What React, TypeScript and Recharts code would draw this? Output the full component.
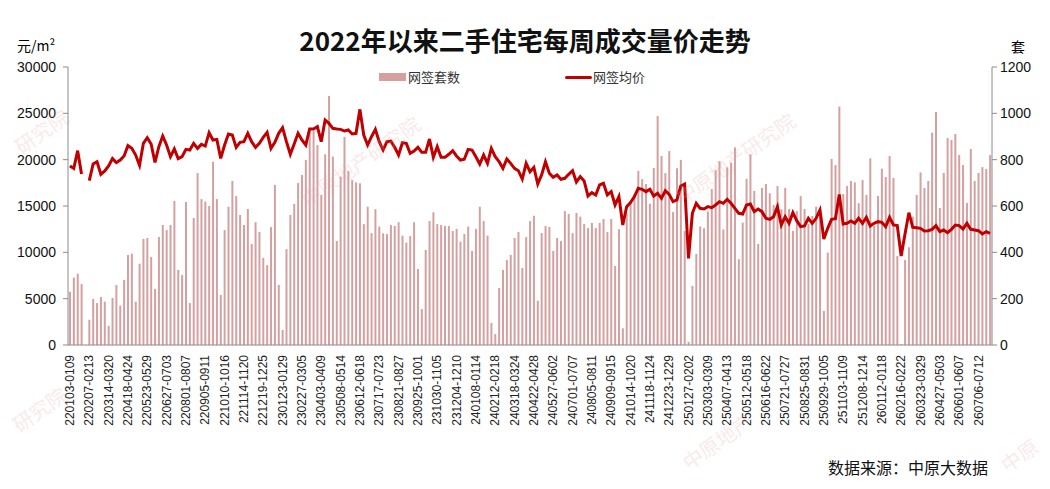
import { ComposedChart, Bar, Line, XAxis, YAxis } from 'recharts';

// weekly deals (套), Jan 2022 onward
const setsSold: (number | null)[] = [
  230, 291, 308, 263, null, 109, 199, 181, 207, 187,
  83, 203, 259, 170, 281, 389, 394, 187, 351, 458,
  462, 380, 242, 466, 518, 496, 518, 622, 324, 302,
  617, 181, 548, 742, 630, 619, 600, 791, 630, 216,
  496, 597, 708, 643, 561, 518, 587, 436, 530, 488,
  376, 345, 509, 691, 259, 65, 414, 561, 609, 699,
  734, 799, 921, 924, 863, 648, 823, 1075, 813, 449,
  727, 898, 751, 712, 702, 698, 522, 597, 483, 586,
  511, 482, 479, 518, 514, 530, 472, 442, 470, 530,
  328, 155, 410, 535, 573, 522, 518, 514, 514, 492,
  501, 446, 479, 511, 406, 501, 597, 535, 472, 95,
  47, 246, 324, 367, 389, 462, 488, 332, 466, 535,
  558, 191, 483, 514, 509, 406, 462, 449, 578, 566,
  483, 570, 554, 522, 505, 527, 505, 527, 544, 488,
  544, 341, 500, 72, 568, 615, 650, 751, 716, 695,
  610, 764, 988, 816, 742, 837, 574, 763, 799, 492,
  14, 255, 393, 511, 504, 576, 673, 755, 794, 499,
  767, 787, 853, 370, 528, 717, 823, 665, 436, 678,
  695, 655, 604, 686, 586, 678, 587, 492, 578, 643,
  587, 522, 557, 597, 587, 147, 399, 803, 777, 1029,
  652, 686, 708, 702, 612, 712, 648, 806, 514, 643,
  761, 725, 816, 721, 384, 4, 367, 422, 554, 648,
  745, 678, 708, 917, 1006, 591, 743, 894, 885, 911,
  820, 777, 613, 846, 708, 743, 768, 760, 820,
];

// weekly average price (元/㎡)
const avgPrice: (number | null)[] = [
  19320, 19060, 20970, 18450, null, 17730, 19530, 19780, 18420, 18780,
  19320, 20110, 19680, 19960, 20400, 21510, 21220, 20500, 19390, 21760,
  22370, 21690, 19710, 21400, 22550, 21580, 20320, 21150, 20110, 20320,
  21110, 21040, 21760, 21220, 21650, 21470, 22910, 22120, 22190, 20140,
  21580, 22770, 22660, 21330, 21870, 21940, 22840, 21940, 21330, 21760,
  22410, 22950, 21220, 21870, 22840, 23450, 21940, 20580, 21690, 22840,
  22120, 21580, 23310, 23310, 23560, 21940, 24280, 23920, 23380, 23310,
  23270, 23090, 23200, 22770, 22840, 25430, 22660, 21580, 22480, 23270,
  21940, 21040, 21940, 22010, 21330, 20500, 21830, 21760, 20680, 20930,
  21330, 20790, 20790, 22230, 20250, 21400, 20250, 20250, 20580, 20970,
  20400, 19960, 20040, 21110, 21040, 20320, 19530, 20500, 19600, 21220,
  20320, 19780, 19060, 20070, 19600, 19060, 18810, 17910, 19600, 18700,
  19170, 17370, 18350, 19780, 18530, 18090, 18350, 17880, 17990, 18420,
  18810, 17590, 18170, 17700, 16080, 16440, 16190, 17270, 17450, 16190,
  16550, 15110, 16010, 12950, 14930, 15360, 16010, 16910, 16800, 16550,
  16800, 16080, 16370, 15830, 16650, 16260, 15470, 15650, 17160, 17370,
  9350, 14210, 15290, 14750, 14680, 14930, 14820, 15110, 15470, 15290,
  15720, 15290, 14750, 14210, 14140, 15110, 15220, 14390, 14680, 14390,
  13670, 13560, 13850, 14930, 12950, 13850, 13130, 14280, 13420, 12770,
  12840, 13670, 13130, 13670, 14570, 11440, 12590, 13560, 13630, 16240,
  13060, 13130, 13380, 13130, 13670, 13130, 13780, 12840, 13130, 13310,
  13240, 12770, 13780, 12950, 12880, 9600, 11980, 14280, 12700, 12660,
  12590, 12300, 12340, 12480, 12880, 12230, 12410, 12120, 12480, 12950,
  12880, 12520, 13130, 12480, 12410, 12340, 11980, 12230, 12050,
];

const priceTicks = [0, 5000, 10000, 15000, 20000, 25000, 30000];
const setTicks = [0, 200, 400, 600, 800, 1000, 1200];

const pad = (n: number) => String(n).padStart(2, '0');

// week labels like 220103-0109 (Mon-Sun)
const buildWeeks = (start: string, count: number) => {
  const out: string[] = [];
  const d0 = new Date(start + 'T00:00:00Z').getTime();
  for (let i = 0; i < count; i++) {
    const a = new Date(d0 + i * 7 * 86400000);
    const b = new Date(d0 + (i * 7 + 6) * 86400000);
    out.push(
      `${String(a.getUTCFullYear()).slice(2)}${pad(a.getUTCMonth() + 1)}${pad(a.getUTCDate())}-${pad(b.getUTCMonth() + 1)}${pad(b.getUTCDate())}`
    );
  }
  return out;
};

const weeks = buildWeeks('2022-01-03', setsSold.length);

const data = weeks.map((week, i) => ({
  week,
  sets: setsSold[i],
  price: avgPrice[i],
}));

const BAR_COLOR = '#d4a0a0';
const LINE_COLOR = '#c00000';
const AXIS_COLOR = '#8c8c8c';
const NUM_FONT = '"Liberation Sans", Arial, sans-serif';
const CJK_FONT = '"Noto Sans CJK SC", "Noto Sans", sans-serif';

const WeekTick = ({ x, y, payload }: any) => (
  <text
    x={x}
    y={y}
    transform={`rotate(-90 ${x} ${y})`}
    textAnchor="end"
    dy="0.35em"
    fontSize={12}
    fontFamily={NUM_FONT}
    fill="#222"
  >
    {payload.value}
  </text>
);

// faint stamp text; only the visible part is drawn near the edges
const watermarks = [
  { x: 46, y: 138, text: '研究院' },
  { x: 365, y: 168, text: '中原地产研究院' },
  { x: 740, y: 165, text: '中原地产研究院' },
  { x: 44, y: 416, text: '研究院' },
  { x: 722, y: 448, text: '中原地产' },
  { x: 1024, y: 462, text: '中原' },
];

export default function App() {
  return (
    <div style={{ position: 'absolute', left: 0, top: 0, width: 1050, height: 489, background: '#fff' }}>
      <div
        style={{
          position: 'absolute', left: 0, width: 1050, top: 20, textAlign: 'center',
          fontFamily: CJK_FONT, fontWeight: 700, fontSize: 26, lineHeight: '40px', color: '#111',
        }}
      >
        2022年以来二手住宅每周成交量价走势
      </div>
      <div style={{ position: 'absolute', left: 17, top: 35, fontFamily: CJK_FONT, fontSize: 14, lineHeight: '20px' }}>
        元/m²
      </div>
      <div style={{ position: 'absolute', left: 1011, top: 36, fontFamily: CJK_FONT, fontSize: 14, lineHeight: '20px' }}>
        套
      </div>

      {/* legend */}
      <div style={{ position: 'absolute', left: 379, top: 73, width: 27, height: 8, background: BAR_COLOR }} />
      <div style={{ position: 'absolute', left: 408, top: 68, fontFamily: CJK_FONT, fontSize: 13, lineHeight: '18px', color: '#333' }}>
        网签套数
      </div>
      <div style={{ position: 'absolute', left: 565, top: 76, width: 27, height: 3, background: LINE_COLOR, borderRadius: 2 }} />
      <div style={{ position: 'absolute', left: 593, top: 68, fontFamily: CJK_FONT, fontSize: 13, lineHeight: '18px', color: '#333' }}>
        网签均价
      </div>

      <ComposedChart
        width={1050}
        height={489}
        data={data}
        margin={{ top: 67, right: 0, bottom: 64, left: 0 }}
      >
        <XAxis
          dataKey="week"
          interval={4}
          height={80}
          tickLine={false}
          tickSize={6}
          tickMargin={4}
          stroke={AXIS_COLOR}
          tick={<WeekTick />}
        />
        <YAxis
          yAxisId="price"
          orientation="left"
          width={68}
          domain={[0, 30000]}
          ticks={priceTicks}
          stroke={AXIS_COLOR}
          tickSize={5}
          tickMargin={7}
          tick={{ fill: '#111', fontSize: 14, fontFamily: NUM_FONT }}
        />
        <YAxis
          yAxisId="sets"
          orientation="right"
          width={58}
          domain={[0, 1200]}
          ticks={setTicks}
          stroke={AXIS_COLOR}
          tickSize={5}
          tickMargin={3}
          tick={{ fill: '#111', fontSize: 14, fontFamily: NUM_FONT }}
        />
        <Bar
          yAxisId="sets"
          dataKey="sets"
          fill={BAR_COLOR}
          barSize={2}
          isAnimationActive={false}
        />
        <Line
          yAxisId="price"
          dataKey="price"
          type="linear"
          stroke={LINE_COLOR}
          strokeWidth={3}
          dot={false}
          activeDot={false}
          isAnimationActive={false}
        />
      </ComposedChart>

      <svg width={1050} height={489} style={{ position: 'absolute', left: 0, top: 0, pointerEvents: 'none' }}>
        {watermarks.map((w, i) => (
          <text
            key={i}
            x={w.x}
            y={w.y}
            transform={`rotate(-35 ${w.x} ${w.y})`}
            textAnchor="middle"
            fontFamily={CJK_FONT}
            fontSize={20}
            fill="#e6a3a3"
            opacity={0.22}
          >
            {w.text}
          </text>
        ))}
      </svg>

      <div style={{ position: 'absolute', left: 828, top: 456, fontFamily: CJK_FONT, fontSize: 16, lineHeight: '22px', color: '#111' }}>
        数据来源：中原大数据
      </div>
    </div>
  );
}
